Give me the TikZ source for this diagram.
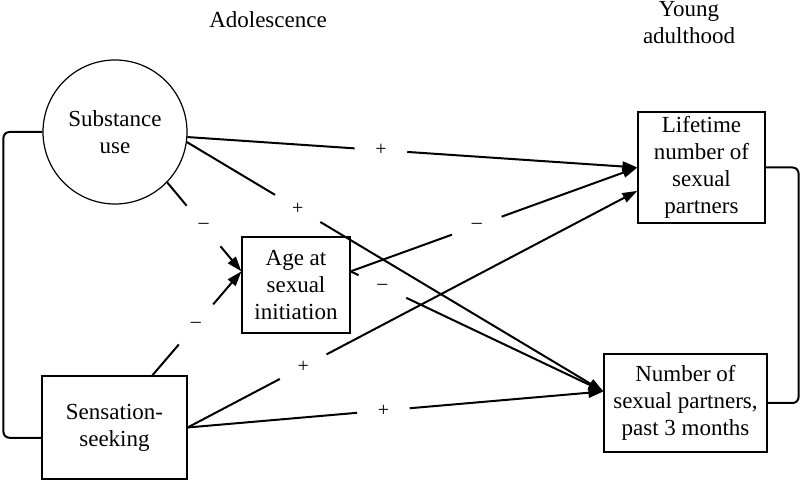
\documentclass[tikz,border=0pt]{standalone}
\usepackage{fontspec}
\setmainfont{Liberation Serif}
\usepackage{tikz}
\usetikzlibrary{arrows.meta}

\begin{document}
\begin{tikzpicture}[x=0.5pt,y=-0.5pt]
\tikzset{>={Triangle[width=5pt,length=7.5pt]}}
\tikzstyle{txt} =[font=\fontsize{11.5}{13.5}\selectfont,align=center,inner sep=0pt]
\tikzstyle{box} =[txt,draw,line width=0.6pt,rectangle]
\tikzstyle{sign} =[circle,inner sep=0pt,minimum size=26pt,font=\fontsize{10}{12}\selectfont]
\tikzstyle{link} =[line width=1pt]
\useasboundingbox (0,0) rectangle (800,480);

\node[txt](adol) at (268,20){Adolescence};
\node[txt](young) at (689,23){Young\\adulthood};

\node[txt,draw,circle,line width=0.6pt,minimum size=72pt](su) at (115,132){Substance\\use};
\node[box,minimum width=54pt,minimum height=48pt](age) at (296,285){Age at\\sexual\\initiation};
\node[box,minimum width=72.5pt,minimum height=51.5pt](ss) at (114.5,427.5){Sensation-\\seeking};
\node[box,minimum width=63.5pt,minimum height=55.5pt](lt) at (701.5,167.5){Lifetime\\number of\\sexual\\partners};
\node[box,minimum width=81.5pt,minimum height=49pt](np) at (685.5,403){Number of\\sexual partners,\\past 3 months};

\path (su.-4) -- node[sign,pos=.43](s1){+} (lt.west);
\path (su.-8) -- node[sign,pos=.266](s2){+} (np.172);
\path (su.-44) -- node[sign,pos=.49](s3){–} (age.166);
\path (ss.54) -- node[sign,pos=.49](s4){–} (age.166);
\path (age.14) -- node[sign,pos=.44](s5){–} (lt.west);
\path (age.14) -- node[sign,pos=.126](s6){–} (np.172);
\path (ss.east) -- node[sign,pos=.257](s7){+} (lt.200);
\path (ss.east) -- node[sign,pos=.471](s8){+} (np.172);

\draw [link] (su.-4) -- (s1);
\draw [->,link] (s1) -- (lt.west);
\draw [link] (su.-8) -- (s2);
\draw [->,link] (s2) -- (np.172);
\draw [link] (su.-44) -- (s3);
\draw [->,link] (s3) -- (age.166);
\draw [link] (ss.54) -- (s4);
\draw [->,link] (s4) -- (age.166);
\draw [link] (age.14) -- (s5);
\draw [->,link] (s5) -- (lt.west);
\draw [link] (age.14) -- (s6);
\draw [->,link] (s6) -- (np.172);
\draw [link] (ss.east) -- (s7);
\draw [->,link] (s7) -- (lt.200);
\draw [link] (ss.east) -- (s8);
\draw [->,link] (s8) -- (np.172);

\draw [link,rounded corners=3pt] (su.west) -- ++(-39,0) |- (ss.188);
\draw [link,rounded corners=3pt] (lt.east) -- ++(33,0) |- (np.east);
\end{tikzpicture}
\end{document}
